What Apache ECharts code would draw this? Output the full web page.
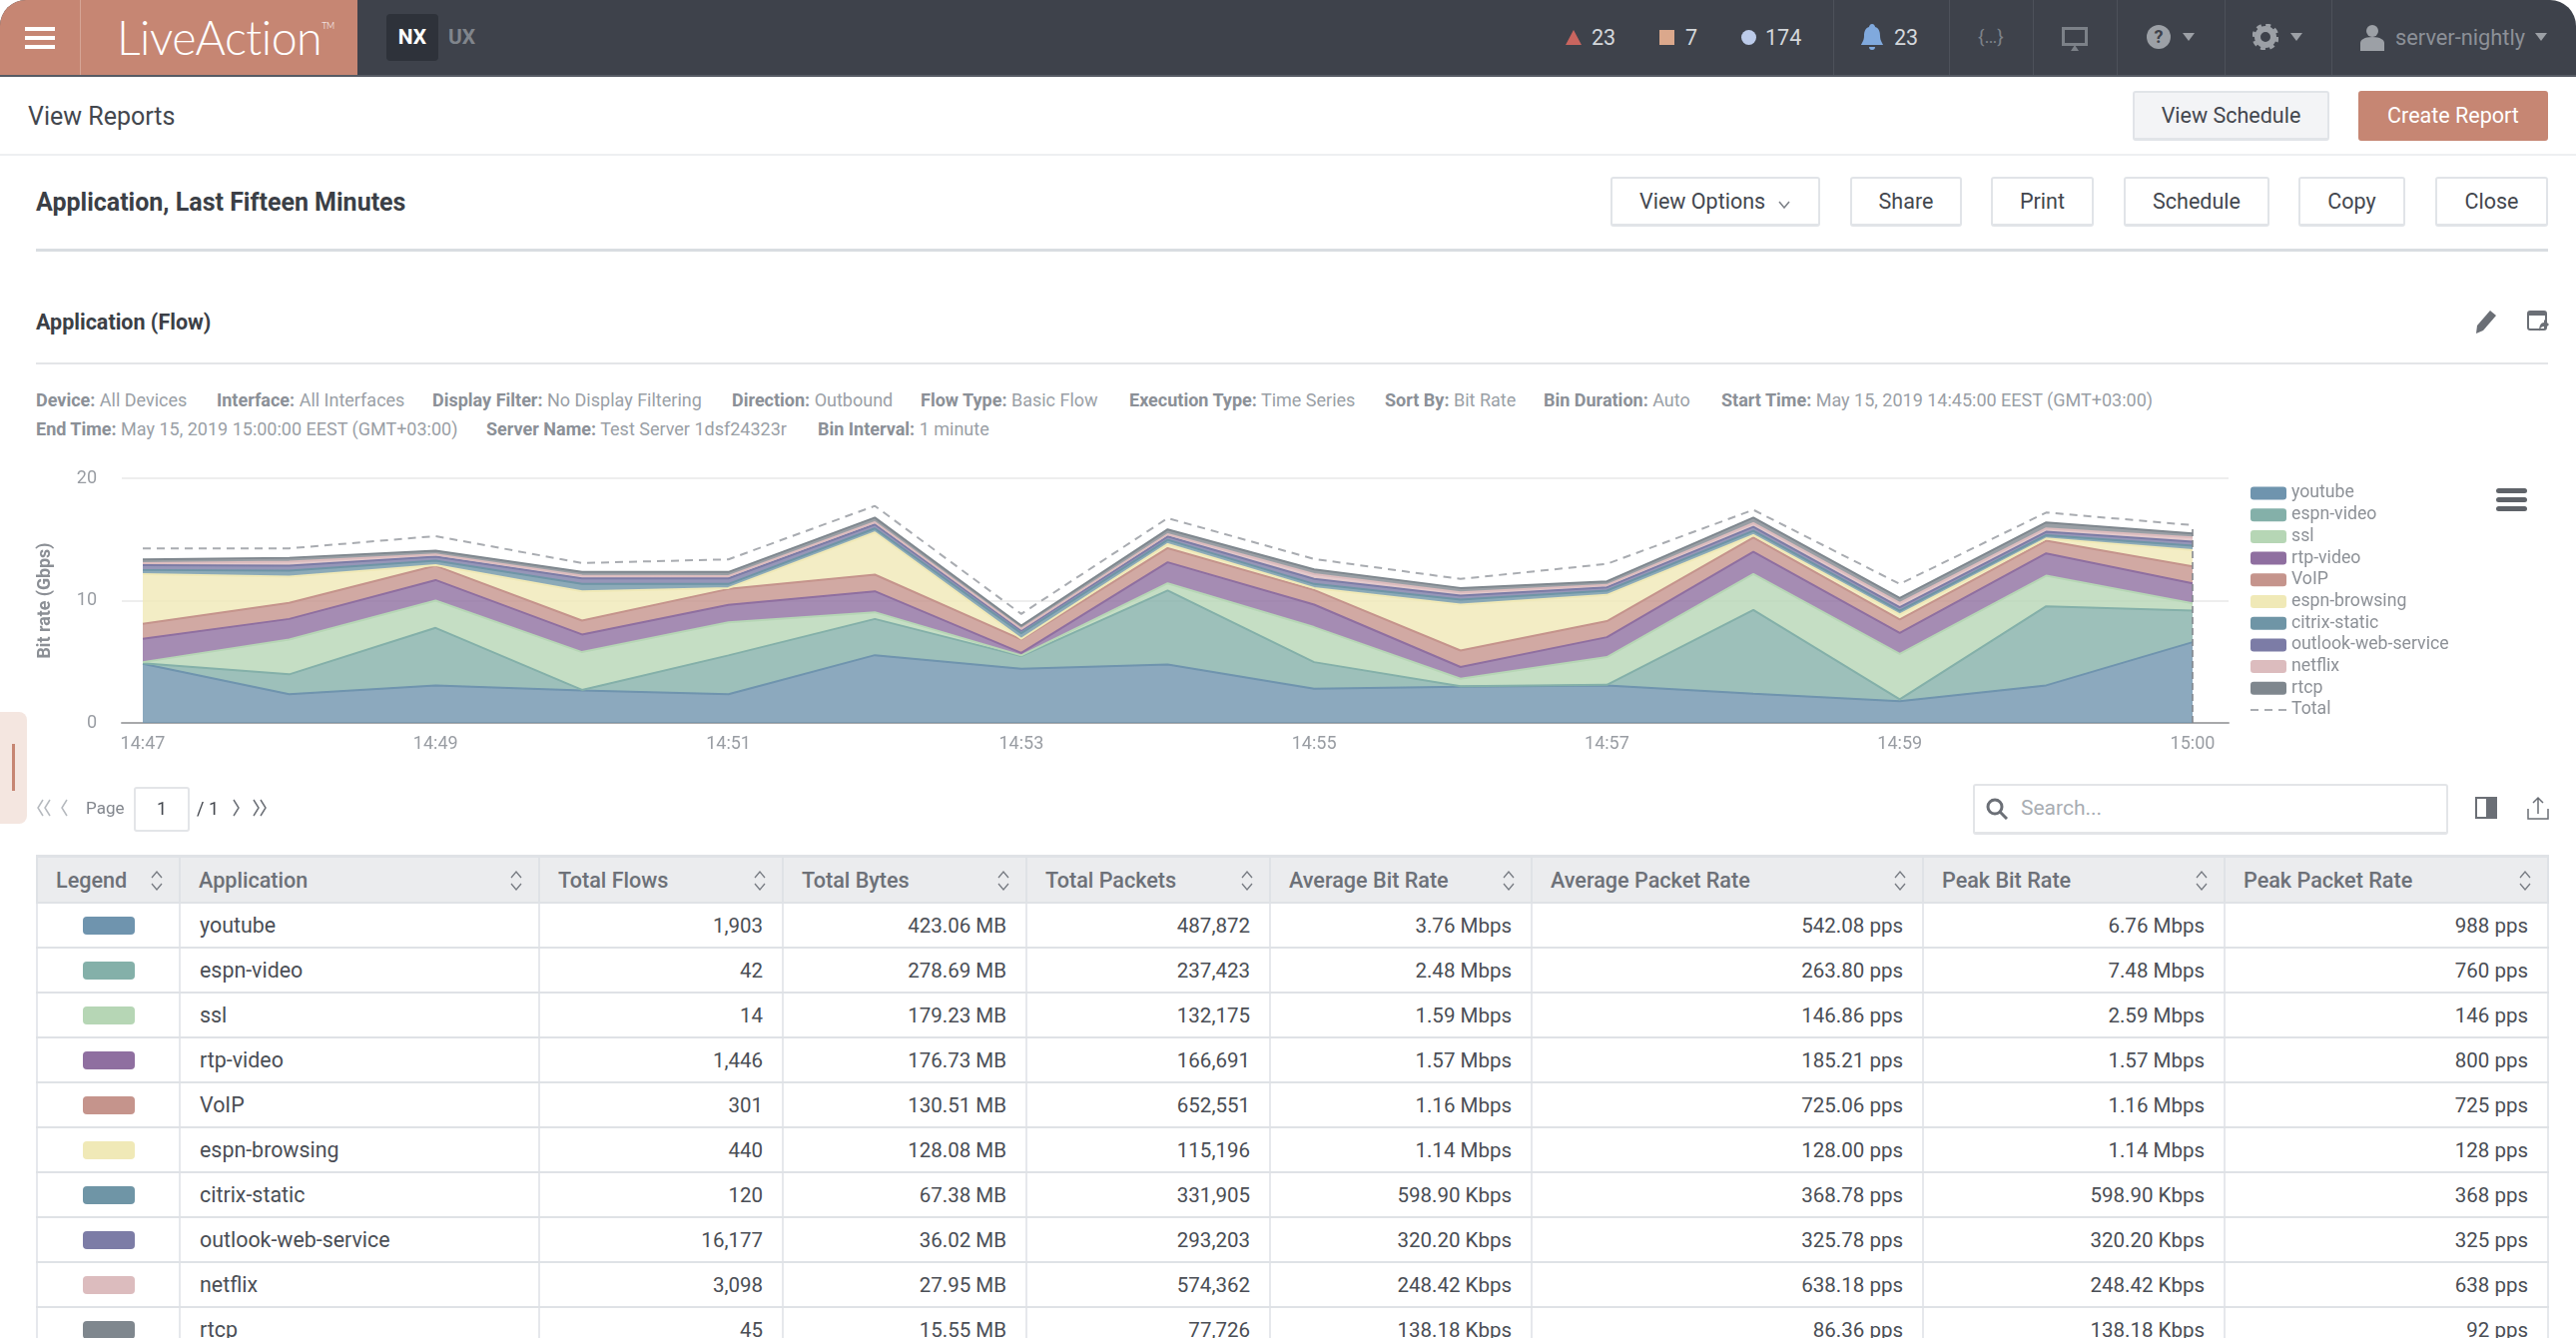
<!DOCTYPE html>
<html>
<head>
<meta charset="utf-8">
<title>Application, Last Fifteen Minutes</title>
<script src="https://cdn.jsdelivr.net/npm/echarts@6/dist/echarts.min.js"></script>
<style>
html, body { margin: 0; padding: 0; width: 2580px; height: 1340px; overflow: hidden; background: #fff; }
body { font-family: Roboto, "Noto Sans", sans-serif; color: #43474e; }
#page { position: relative; width: 2580px; height: 1340px; overflow: hidden; }
.abs { position: absolute; white-space: nowrap; }
.mid { position: absolute; white-space: nowrap; transform: translateY(-50%); }
#top { position: absolute; left: 0; top: 0; width: 2580px; height: 75px; background: #3e424b; border-bottom: 2px solid #565b64; border-radius: 26px 26px 0 0; overflow: hidden; }
#brand { position: absolute; left: 0; top: 0; width: 358px; height: 77px; background: #c68673; }
.vline { position: absolute; top: 0; width: 1px; height: 76px; background: #4d515a; }
.nums { font-size: 21.5px; color: #d4d7db; }
.btn { position: absolute; box-sizing: border-box; height: 50px; background: #fff; border: 2px solid #e1e4e8; border-bottom-width: 3px; border-radius: 3px; font-size: 21.5px; line-height: 46px; text-align: center; color: #43474e; }
.hr { position: absolute; }
.meta { font-size: 18px; color: #9a9fa6; }
.meta b { font-weight: 700; color: #8b9097; }
#chart { position: absolute; left: 0; top: 460px; width: 2580px; height: 320px; }
#tbl { position: absolute; left: 36px; top: 856px; border-collapse: collapse; table-layout: fixed; width: 2515px; }
#tbl th { height: 44px; background: #ebecee; border: 2px solid #dfe2e6; border-top-width: 3px; text-align: left; font-weight: 500; font-size: 21.6px; color: #6d7178; padding: 0 0 0 18px; position: relative; }
#tbl td { height: 43px; border-left: 2px solid #e6e8ec; border-right: 2px solid #e6e8ec; border-bottom: 2px solid #dfe2e6; font-size: 20.5px; color: #4a4e55; padding: 0 19px; text-align: right; }
#tbl td.name { text-align: left; font-size: 21.4px; }
#tbl td.sw { padding: 0; }
#tbl .swatch { display: block; width: 52px; height: 18px; border-radius: 4px; margin: 0 auto 0 45px; }
#tbl svg { position: absolute; right: 16px; top: 13px; }
</style>
</head>
<body>
<div id="page">

  <div id="top">
    <div id="brand">
      <svg class="abs" style="left:25px;top:27px" width="30" height="22"><rect width="30" height="4" fill="#fff"/><rect y="9" width="30" height="4" fill="#fff"/><rect y="18" width="30" height="4" fill="#fff"/></svg>
      <div class="vline" style="left:80px;background:#d6a596"></div>
      <div class="mid" style="left:117px;top:37px;font:300 46.5px Lato,sans-serif;color:#fff;letter-spacing:-0.5px">LiveAction<span style="font-size:9px;vertical-align:26px">TM</span></div>
    </div>
    <div class="abs" style="left:387px;top:14px;width:52px;height:47px;background:#2e323a;border-radius:4px;color:#fff;font-weight:700;font-size:21px;line-height:47px;text-align:center">NX</div>
    <div class="mid" style="left:449px;top:37px;font-size:21px;font-weight:700;color:#80858c">UX</div>

    <svg class="abs" style="left:1568px;top:30px" width="16" height="15"><polygon points="8,0 16,15 0,15" fill="#c9655f"/></svg>
    <div class="mid nums" style="left:1594px;top:37px">23</div>
    <div class="abs" style="left:1662px;top:30px;width:15px;height:15px;background:#dba88c"></div>
    <div class="mid nums" style="left:1688px;top:37px">7</div>
    <div class="abs" style="left:1744px;top:30px;width:15px;height:15px;border-radius:50%;background:#bccbea"></div>
    <div class="mid nums" style="left:1768px;top:37px">174</div>
    <div class="vline" style="left:1836px"></div>
    <svg class="abs" style="left:1864px;top:24px" width="22" height="26"><path d="M11 0c2 0 3 2 3 3 4 1 5 5 5 9 0 5 3 8 3 9H0c0-1 3-4 3-9 0-4 1-8 5-9 0-1 1-3 3-3z M8 23h6c0 2-1 3-3 3s-3-1-3-3z" fill="#80a9dd"/></svg>
    <div class="mid nums" style="left:1897px;top:37px">23</div>
    <div class="vline" style="left:1952px"></div>
    <div class="mid" style="left:1981px;top:36px;font-size:19px;color:#7c8188">{…}</div>
    <div class="vline" style="left:2036px"></div>
    <svg class="abs" style="left:2065px;top:27px" width="26" height="24"><rect x="1.5" y="1.5" width="23" height="16" fill="none" stroke="#7c8188" stroke-width="3"/><polygon points="9,24 17,24 13,18" fill="#7c8188"/></svg>
    <div class="vline" style="left:2120px"></div>
    <svg class="abs" style="left:2149px;top:24px" width="26" height="26"><circle cx="13" cy="13" r="12" fill="#9ca0a6"/><text x="13" y="19" text-anchor="middle" font-size="18" font-weight="700" font-family="Roboto" fill="#3e424b">?</text></svg>
    <svg class="abs" style="left:2186px;top:33px" width="12" height="8"><polygon points="0,0 12,0 6,8" fill="#9ca0a6"/></svg>
    <div class="vline" style="left:2228px"></div>
    <svg class="abs" style="left:2256px;top:24px" width="26" height="26"><circle cx="13" cy="13" r="8" fill="none" stroke="#9ca0a6" stroke-width="6"/><circle cx="13" cy="13" r="12" fill="none" stroke="#9ca0a6" stroke-width="3" stroke-dasharray="5 4.4"/></svg>
    <svg class="abs" style="left:2294px;top:33px" width="12" height="8"><polygon points="0,0 12,0 6,8" fill="#9ca0a6"/></svg>
    <div class="vline" style="left:2335px"></div>
    <svg class="abs" style="left:2364px;top:24px" width="24" height="27"><circle cx="12" cy="7" r="6" fill="#9ca0a6"/><path d="M0 27v-8c0-3 4-6 12-6s12 3 12 6v8z" fill="#9ca0a6"/></svg>
    <div class="mid" style="left:2399px;top:37px;font-size:21.8px;color:#8c9097">server-nightly</div>
    <svg class="abs" style="left:2539px;top:33px" width="12" height="8"><polygon points="0,0 12,0 6,8" fill="#9ca0a6"/></svg>
  </div>

  <div class="mid" style="left:28px;top:116px;font-size:25px;color:#43474e">View Reports</div>
  <div class="btn" style="left:2136px;top:91px;width:197px;background:#f3f4f6">View Schedule</div>
  <div class="btn" style="left:2362px;top:91px;width:190px;background:#c68673;border-color:#c68673;color:#fff">Create Report</div>
  <div class="hr" style="left:0;top:154px;width:2580px;height:2px;background:#eeeff1"></div>

  <div class="mid" style="left:36px;top:202px;font-size:25px;font-weight:700;color:#3b3f46">Application, Last Fifteen Minutes</div>
  <div class="btn" style="left:1613px;top:177px;width:210px;text-align:left;padding-left:27px">View Options<svg style="margin-left:13px" width="12" height="8"><polyline points="1,1 6,7 11,1" fill="none" stroke="#7b7f86" stroke-width="1.5"/></svg></div>
  <div class="btn" style="left:1853px;top:177px;width:112px">Share</div>
  <div class="btn" style="left:1994px;top:177px;width:103px">Print</div>
  <div class="btn" style="left:2127px;top:177px;width:146px">Schedule</div>
  <div class="btn" style="left:2302px;top:177px;width:107px">Copy</div>
  <div class="btn" style="left:2439px;top:177px;width:113px">Close</div>
  <div class="hr" style="left:36px;top:249px;width:2516px;height:3px;background:#d9dde1"></div>

  <div class="mid" style="left:36px;top:322px;font-size:21.5px;font-weight:700;color:#3b3f46">Application (Flow)</div>
  <svg class="abs" style="left:2479px;top:310px" width="22" height="24"><path d="M15 1l6 5-13 15-7 3 1-8z" fill="#6b6f76"/></svg>
  <svg class="abs" style="left:2531px;top:311px" width="22" height="22"><rect x="1" y="1" width="18" height="18" rx="2" fill="none" stroke="#6b6f76" stroke-width="2"/><rect x="1" y="1" width="18" height="4" fill="#6b6f76"/><path d="M12 21c0-6 2-9 5-9v-3l5 5-5 5v-3c-2 0-4 1-5 5z" fill="#6b6f76"/></svg>
  <div class="hr" style="left:36px;top:363px;width:2516px;height:2px;background:#e3e5e8"></div>

  <div class="mid meta" style="left:36px;top:400px"><b>Device:</b> All Devices</div>
  <div class="mid meta" style="left:217px;top:400px"><b>Interface:</b> All Interfaces</div>
  <div class="mid meta" style="left:433px;top:400px"><b>Display Filter:</b> No Display Filtering</div>
  <div class="mid meta" style="left:733px;top:400px"><b>Direction:</b> Outbound</div>
  <div class="mid meta" style="left:922px;top:400px"><b>Flow Type:</b> Basic Flow</div>
  <div class="mid meta" style="left:1131px;top:400px"><b>Execution Type:</b> Time Series</div>
  <div class="mid meta" style="left:1387px;top:400px"><b>Sort By:</b> Bit Rate</div>
  <div class="mid meta" style="left:1546px;top:400px"><b>Bin Duration:</b> Auto</div>
  <div class="mid meta" style="left:1724px;top:400px"><b>Start Time:</b> May 15, 2019 14:45:00 EEST (GMT+03:00)</div>
  <div class="mid meta" style="left:36px;top:429px"><b>End Time:</b> May 15, 2019 15:00:00 EEST (GMT+03:00)</div>
  <div class="mid meta" style="left:487px;top:429px"><b>Server Name:</b> Test Server 1dsf24323r</div>
  <div class="mid meta" style="left:819px;top:429px"><b>Bin Interval:</b> 1 minute</div>

  <div id="chart"></div>

  <svg class="abs" style="left:2500px;top:489px" width="31" height="23"><rect width="31" height="5" rx="2.5" fill="#5f6369"/><rect y="9" width="31" height="5" rx="2.5" fill="#5f6369"/><rect y="18" width="31" height="5" rx="2.5" fill="#5f6369"/></svg>

  <div class="abs" style="left:0;top:713px;width:27px;height:112px;background:#f4e6e0;border-radius:0 8px 8px 0"></div>
  <div class="abs" style="left:12px;top:745px;width:3px;height:47px;background:#c68673"></div>

  <svg class="abs" style="left:36px;top:800px" width="34" height="18"><polyline points="14,1 9,9 14,17" fill="none" stroke="#b5b9be" stroke-width="1.5"/><polyline points="7,1 2,9 7,17" fill="none" stroke="#b5b9be" stroke-width="1.5"/><polyline points="31,1 26,9 31,17" fill="none" stroke="#b5b9be" stroke-width="1.5"/></svg>
  <div class="mid" style="left:86px;top:809px;font-size:17px;color:#83878e">Page</div>
  <div class="abs" style="left:134px;top:788px;width:52px;height:41px;border:2px solid #e3e5e8;border-radius:3px;text-align:center;line-height:39px;font-size:18px;color:#43474e">1</div>
  <div class="mid" style="left:197px;top:809px;font-size:18px;color:#43474e">/ 1</div>
  <svg class="abs" style="left:232px;top:800px" width="46" height="18"><polyline points="2,1 7,9 2,17" fill="none" stroke="#6c7077" stroke-width="1.5"/><polyline points="22,1 27,9 22,17" fill="none" stroke="#6c7077" stroke-width="1.5"/><polyline points="29,1 34,9 29,17" fill="none" stroke="#6c7077" stroke-width="1.5"/></svg>

  <div class="abs" style="left:1976px;top:785px;width:472px;height:46px;border:2px solid #e3e5e8;border-bottom-width:3px;border-radius:3px"></div>
  <svg class="abs" style="left:1989px;top:799px" width="22" height="22"><circle cx="9" cy="9" r="7" fill="none" stroke="#6b6f76" stroke-width="3"/><line x1="14" y1="14" x2="21" y2="21" stroke="#6b6f76" stroke-width="3"/></svg>
  <div class="mid" style="left:2024px;top:809px;font-size:21px;color:#a9adb3">Search...</div>
  <svg class="abs" style="left:2479px;top:798px" width="22" height="22"><rect x="1" y="1" width="20" height="20" fill="none" stroke="#6b6f76" stroke-width="2"/><rect x="11" y="1" width="10" height="20" fill="#6b6f76"/></svg>
  <svg class="abs" style="left:2531px;top:797px" width="22" height="24"><path d="M1 13v10h20V13" fill="none" stroke="#6b6f76" stroke-width="1.5"/><path d="M11 18V2M6 7l5-5 5 5" fill="none" stroke="#6b6f76" stroke-width="1.5"/></svg>

  <table id="tbl"></table>
</div>

<script>
// chart values, Gbps per stacked layer
var categories = ['14:47', '14:48', '14:49', '14:50', '14:51', '14:52', '14:53', '14:54', '14:55', '14:56', '14:57', '14:58', '14:59', '14:59:30', '15:00'];
var youtube = [4.84, 2.34, 3.07, 2.66, 2.34, 5.54, 4.43, 4.78, 2.80, 2.96, 3.07, 2.39, 1.77, 3.07, 6.60];
var espnVideo = [0.04, 1.63, 4.70, 0.04, 3.18, 2.96, 1.03, 6.04, 2.17, 0.04, 0.05, 6.85, 0.16, 6.47, 2.58];
var ssl = [0.09, 2.85, 2.23, 3.09, 2.71, 0.55, 0.06, 0.59, 2.86, 0.61, 2.26, 2.93, 3.72, 2.50, 0.60];
var rtpVideo = [1.90, 1.68, 1.68, 1.44, 1.42, 1.71, 0.21, 1.72, 1.84, 0.96, 1.63, 1.82, 1.71, 1.82, 1.63];
var voip = [1.23, 1.31, 1.17, 1.14, 1.30, 1.36, 1.09, 1.16, 1.20, 1.35, 1.31, 1.17, 1.09, 1.03, 1.39];
var espnBrowsing = [4.07, 2.15, 0.05, 2.39, 0.08, 3.45, 0.06, 0.33, 0.16, 3.75, 2.14, 0.19, 0.41, 0.19, 1.33];
var citrixStatic = [0.33, 0.49, 0.36, 0.60, 0.33, 0.33, 0.46, 0.35, 0.33, 0.41, 0.36, 0.36, 0.32, 0.27, 0.35];
var outlookWeb = [0.40, 0.40, 0.33, 0.46, 0.46, 0.32, 0.21, 0.27, 0.41, 0.33, 0.27, 0.32, 0.28, 0.28, 0.33];
var netflix = [0.17, 0.33, 0.19, 0.22, 0.19, 0.19, 0.14, 0.19, 0.40, 0.27, 0.19, 0.30, 0.35, 0.27, 0.35];
var rtcp = [0.30, 0.32, 0.30, 0.30, 0.33, 0.38, 0.27, 0.39, 0.38, 0.35, 0.30, 0.46, 0.41, 0.49, 0.33];
var total = [14.27, 14.27, 15.27, 13.07, 13.37, 17.74, 8.91, 16.74, 13.40, 11.77, 13.00, 17.42, 11.36, 17.20, 16.17];

var appNames = ['youtube', 'espn-video', 'ssl', 'rtp-video', 'VoIP', 'espn-browsing', 'citrix-static', 'outlook-web-service', 'netflix', 'rtcp'];
var appValues = [youtube, espnVideo, ssl, rtpVideo, voip, espnBrowsing, citrixStatic, outlookWeb, netflix, rtcp];
var appColors = ['#6f94ae', '#84b0a9', '#b6d6b5', '#8f6fa0', '#c5948c', '#f0e9b7', '#6f95a6', '#7c7ca6', '#dcbcbe', '#7f878e'];

// table columns
var tableHeaders = ['Legend', 'Application', 'Total Flows', 'Total Bytes', 'Total Packets', 'Average Bit Rate', 'Average Packet Rate', 'Peak Bit Rate', 'Peak Packet Rate'];
var columnWidths = [143, 360, 244, 244, 244, 262, 392, 302, 324];
var totalFlows = ['1,903', '42', '14', '1,446', '301', '440', '120', '16,177', '3,098', '45'];
var totalBytes = ['423.06 MB', '278.69 MB', '179.23 MB', '176.73 MB', '130.51 MB', '128.08 MB', '67.38 MB', '36.02 MB', '27.95 MB', '15.55 MB'];
var totalPackets = ['487,872', '237,423', '132,175', '166,691', '652,551', '115,196', '331,905', '293,203', '574,362', '77,726'];
var avgBitRate = ['3.76 Mbps', '2.48 Mbps', '1.59 Mbps', '1.57 Mbps', '1.16 Mbps', '1.14 Mbps', '598.90 Kbps', '320.20 Kbps', '248.42 Kbps', '138.18 Kbps'];
var avgPacketRate = ['542.08 pps', '263.80 pps', '146.86 pps', '185.21 pps', '725.06 pps', '128.00 pps', '368.78 pps', '325.78 pps', '638.18 pps', '86.36 pps'];
var peakBitRate = ['6.76 Mbps', '7.48 Mbps', '2.59 Mbps', '1.57 Mbps', '1.16 Mbps', '1.14 Mbps', '598.90 Kbps', '320.20 Kbps', '248.42 Kbps', '138.18 Kbps'];
var peakPacketRate = ['988 pps', '760 pps', '146 pps', '800 pps', '725 pps', '128 pps', '368 pps', '325 pps', '638 pps', '92 pps'];

function buildTable() {
    var sortIcon = '<svg width="12" height="20"><polyline points="1,7 6,1 11,7" fill="none" stroke="#777b82" stroke-width="1.3"/><polyline points="1,13 6,19 11,13" fill="none" stroke="#777b82" stroke-width="1.3"/></svg>';
    var html = '<colgroup>';
    for (var c = 0; c < columnWidths.length; c++) {
        html += '<col style="width:' + columnWidths[c] + 'px">';
    }
    html += '</colgroup><tr>';
    for (var h = 0; h < tableHeaders.length; h++) {
        html += '<th>' + tableHeaders[h] + sortIcon + '</th>';
    }
    html += '</tr>';
    for (var i = 0; i < appNames.length; i++) {
        html += '<tr><td class="sw"><span class="swatch" style="background:' + appColors[i] + '"></span></td>'
            + '<td class="name">' + appNames[i] + '</td>'
            + '<td>' + totalFlows[i] + '</td><td>' + totalBytes[i] + '</td><td>' + totalPackets[i] + '</td>'
            + '<td>' + avgBitRate[i] + '</td><td>' + avgPacketRate[i] + '</td>'
            + '<td>' + peakBitRate[i] + '</td><td>' + peakPacketRate[i] + '</td></tr>';
    }
    document.getElementById('tbl').innerHTML = html;
}
buildTable();

var textColor = '#999da3';
var series = [];
for (var s = 0; s < appNames.length; s++) {
    series.push({
        name: appNames[s],
        type: 'line',
        xAxisIndex: 1,
        yAxisIndex: 1,
        stack: 'apps',
        symbol: 'none',
        data: appValues[s],
        itemStyle: { color: appColors[s] },
        lineStyle: { color: appColors[s], width: 2 },
        areaStyle: { color: appColors[s], opacity: 0.8 }
    });
}
series.push({
    name: 'Total',
    type: 'line',
    xAxisIndex: 1,
    yAxisIndex: 1,
    symbol: 'none',
    data: total,
    itemStyle: { color: '#a9acb1' },
    lineStyle: { color: '#a9acb1', width: 2, type: [8, 6] },
    markLine: {
        silent: true,
        symbol: 'none',
        label: { show: false },
        lineStyle: { color: '#7f8389', width: 1.5, type: [7, 4] },
        data: [[
            { xAxis: categories.length - 1, yAxis: 0 },
            { xAxis: categories.length - 1, yAxis: total[total.length - 1] }
        ]]
    }
});

var legendData = [];
for (var l = 0; l < appNames.length; l++) {
    legendData.push({ name: appNames[l], icon: 'roundRect' });
}
// three dashes, the bare moves keep the icon box at full item size
legendData.push({ name: 'Total', icon: 'path://M0 0M0 5.5h8v2H0zM14 5.5h8v2h-8zM28 5.5h8v2h-8zM36 13' });

var myChart = echarts.init(document.getElementById('chart'), null, { renderer: 'canvas' });
myChart.setOption({
    animation: false,
    textStyle: { fontFamily: 'Roboto' },
    // first grid carries the gridlines, it runs wider than the data grid
    grid: [
        { left: 122, width: 2110, top: 19, height: 245 },
        { left: 143, width: 2053, top: 19, height: 245 }
    ],
    legend: {
        orient: 'vertical',
        left: 2249,
        top: 20,
        itemWidth: 36,
        itemHeight: 13,
        itemGap: 3.7,
        textStyle: { color: '#8d9197', fontSize: 17.7, lineHeight: 13 },
        data: legendData
    },
    xAxis: [
        {
            gridIndex: 0, type: 'value', min: 0, max: 1,
            axisLine: { show: true, lineStyle: { color: '#a8a9ab', width: 2 } },
            axisTick: { show: false }, axisLabel: { show: false }, splitLine: { show: false }
        },
        {
            gridIndex: 1, type: 'category', boundaryGap: false, data: categories,
            axisLine: { show: false }, axisTick: { show: false }, splitLine: { show: false },
            axisLabel: { interval: 1, color: textColor, fontSize: 18, margin: 12 }
        }
    ],
    yAxis: [
        {
            gridIndex: 0, type: 'value', min: 0, max: 20, interval: 10,
            name: 'Bit rate (Gbps)', nameLocation: 'middle', nameGap: 67,
            nameTextStyle: { color: '#8b8f95', fontSize: 17.8, fontWeight: 'bold' },
            axisLine: { show: false }, axisTick: { show: false },
            axisLabel: { color: textColor, fontSize: 18, margin: 25 },
            splitLine: { lineStyle: { color: '#eeeeee', width: 2 } }
        },
        {
            gridIndex: 1, type: 'value', min: 0, max: 20, interval: 10, show: false
        }
    ],
    series: series
});
</script>
</body>
</html>
